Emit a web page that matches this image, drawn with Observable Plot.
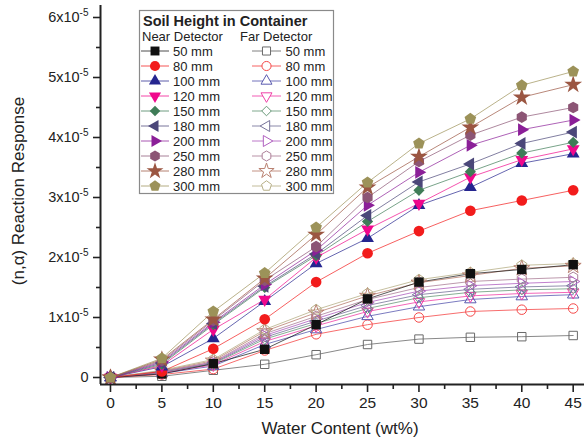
<!DOCTYPE html>
<html><head><meta charset="utf-8">
<script src="https://cdn.jsdelivr.net/npm/d3@7"></script>
<script src="https://cdn.jsdelivr.net/npm/@observablehq/plot@0.6"></script>
<style>
body{margin:0;background:#fff;}
#wrap{position:relative;width:584px;height:443px;font-family:"Liberation Sans",Arial,sans-serif;color:#222;}
#wrap svg{display:block;}
#legend{position:absolute;left:0;top:0;pointer-events:none;}
</style></head><body><div id="wrap"></div>
<script>
// x values: water content (wt%)
const water = [0, 5, 10, 15, 20, 25, 30, 35, 40, 45];
const heights = ["50 mm","80 mm","100 mm","120 mm","150 mm","180 mm","200 mm","250 mm","280 mm","300 mm"];
// Near detector responses (units of 1e-5)
const near50  = [0, 0.06, 0.23, 0.47, 0.88, 1.31, 1.59, 1.73, 1.80, 1.88];
const near80  = [0, 0.10, 0.48, 0.97, 1.59, 2.07, 2.44, 2.78, 2.95, 3.12];
const near100 = [0, 0.18, 0.65, 1.27, 1.90, 2.32, 2.87, 3.17, 3.57, 3.73];
const near120 = [0, 0.20, 0.80, 1.30, 2.00, 2.47, 2.90, 3.34, 3.63, 3.81];
const near150 = [0, 0.22, 0.88, 1.50, 2.03, 2.60, 3.12, 3.43, 3.74, 3.92];
const near180 = [0, 0.24, 0.90, 1.52, 2.06, 2.70, 3.26, 3.56, 3.90, 4.09];
const near200 = [0, 0.26, 0.92, 1.55, 2.12, 2.87, 3.42, 3.87, 4.13, 4.29];
const near250 = [0, 0.28, 0.95, 1.62, 2.18, 3.00, 3.60, 4.04, 4.34, 4.50];
const near280 = [0, 0.30, 0.97, 1.65, 2.38, 3.17, 3.68, 4.17, 4.67, 4.88];
const near300 = [0, 0.32, 1.10, 1.74, 2.50, 3.25, 3.90, 4.31, 4.87, 5.10];
// Far detector responses (units of 1e-5)
const far50  = [0, 0.02, 0.12, 0.22, 0.38, 0.55, 0.64, 0.67, 0.68, 0.70];
const far80  = [0, 0.05, 0.14, 0.45, 0.72, 0.88, 1.00, 1.10, 1.13, 1.15];
const far100 = [0, 0.07, 0.19, 0.55, 0.80, 1.02, 1.18, 1.30, 1.35, 1.38];
const far120 = [0, 0.08, 0.21, 0.60, 0.86, 1.10, 1.26, 1.36, 1.40, 1.42];
const far150 = [0, 0.09, 0.23, 0.64, 0.90, 1.15, 1.33, 1.42, 1.46, 1.48];
const far180 = [0, 0.09, 0.24, 0.67, 0.94, 1.20, 1.38, 1.47, 1.51, 1.53];
const far200 = [0, 0.10, 0.25, 0.70, 0.98, 1.25, 1.44, 1.53, 1.57, 1.60];
const far250 = [0, 0.10, 0.26, 0.73, 1.02, 1.30, 1.50, 1.60, 1.64, 1.67];
const far280 = [0, 0.11, 0.28, 0.77, 1.08, 1.36, 1.58, 1.70, 1.82, 1.86];
const far300 = [0, 0.12, 0.30, 0.80, 1.13, 1.40, 1.63, 1.75, 1.87, 1.90];
// tick values
const xTicks = [0, 5, 10, 15, 20, 25, 30, 35, 40, 45];
const xMinor = [2.5, 7.5, 12.5, 17.5, 22.5, 27.5, 32.5, 37.5, 42.5];
const yTicks = [0, 1, 2, 3, 4, 5, 6];
const yMinor = [0.5, 1.5, 2.5, 3.5, 4.5, 5.5];
const yTickLabels = ["0", "1x10^-5", "2x10^-5", "3x10^-5", "4x10^-5", "5x10^-5", "6x10^-5"];

const nearSeries = [near50, near80, near100, near120, near150, near180, near200, near250, near280, near300];
const farSeries = [far50, far80, far100, far120, far150, far180, far200, far250, far280, far300];
const nearColors = ["#111111","#f21c1c","#25258f","#f0088c","#3f7c57","#4b4779","#8b1f98","#8c5575","#9b5642","#9c9259"];
const farColors  = ["#6a6a6a","#f54848","#5a5ab0","#f040a8","#6a9a7a","#77739a","#b060c0","#ad8098","#b98070","#b8b088"];

// custom symbols
const sqrt3 = Math.sqrt(3);
function tri(dir) {
  return {draw(ctx, size) {
    const y = -Math.sqrt(size / (sqrt3 * 3));
    const pts = {
      up: [[0, 2*y], [-sqrt3*y, -y], [sqrt3*y, -y]],
      down: [[0, -2*y], [-sqrt3*y, y], [sqrt3*y, y]],
      left: [[2*y, 0], [-y, -sqrt3*y], [-y, sqrt3*y]],
      right: [[-2*y, 0], [y, -sqrt3*y], [y, sqrt3*y]]
    }[dir];
    ctx.moveTo(pts[0][0], pts[0][1]); ctx.lineTo(pts[1][0], pts[1][1]); ctx.lineTo(pts[2][0], pts[2][1]); ctx.closePath();
  }};
}
function poly(n) {
  return {draw(ctx, size) {
    const r = Math.sqrt(size / (n / 2 * Math.sin(2 * Math.PI / n)));
    for (let i = 0; i < n; i++) {
      const a = -Math.PI / 2 + i * 2 * Math.PI / n;
      const px = r * Math.cos(a), py = r * Math.sin(a);
      i ? ctx.lineTo(px, py) : ctx.moveTo(px, py);
    }
    ctx.closePath();
  }};
}
const symbols = [d3.symbolSquare, d3.symbolCircle, tri("up"), tri("down"), d3.symbolDiamond2, tri("left"), tri("right"), poly(6), d3.symbolStar, poly(5)];
const symScale = [0.95, 0.95, 0.85, 0.85, 0.9, 0.85, 0.85, 0.95, 1.0, 0.95];

const xDomain = [-0.97, 46.1];
const yDomain = [-0.1167, 6.2];
const rows = vals => water.map((w, j) => ({w, v: vals[j]}));

const marks = [];
farSeries.forEach((vals, i) => marks.push(Plot.line(rows(vals), {x: "w", y: "v", stroke: farColors[i], strokeWidth: 1, strokeOpacity: 0.8})));
nearSeries.forEach((vals, i) => marks.push(Plot.line(rows(vals), {x: "w", y: "v", stroke: nearColors[i], strokeWidth: 1, strokeOpacity: 0.7})));
farSeries.forEach((vals, i) => marks.push(Plot.dot(rows(vals), {x: "w", y: "v", r: 5 * symScale[i], symbol: symbols[i], stroke: farColors[i], fill: "none", strokeWidth: 1})));
nearSeries.forEach((vals, i) => marks.push(Plot.dot(rows(vals), {x: "w", y: "v", r: 5.6 * symScale[i], symbol: symbols[i], fill: nearColors[i]})));

marks.push(
  Plot.ruleX([xDomain[0]], {stroke: "#222", strokeWidth: 2}),
  Plot.ruleY([yDomain[0]], {stroke: "#222", strokeWidth: 2}),
  Plot.axisY({ticks: yTicks, tickSize: 7, tickPadding: 5, fontSize: 14.5, strokeWidth: 1.6, label: null, tickFormat: d => yTickLabels[yTicks.indexOf(d)]}),
  Plot.axisY({ticks: yMinor, tickSize: 4, strokeWidth: 1.6, label: null, tickFormat: () => ""}),
  Plot.axisX({ticks: xTicks, tickSize: 8, tickPadding: 4, fontSize: 15.5, strokeWidth: 1.6, label: null, tickFormat: d => String(d)}),
  Plot.axisX({ticks: xMinor, tickSize: 5, strokeWidth: 1.6, label: null, tickFormat: () => ""})
);

const chart = Plot.plot({
  width: 584, height: 443,
  marginLeft: 100, marginRight: 0, marginTop: 5, marginBottom: 59,
  x: {domain: xDomain},
  y: {domain: yDomain},
  style: {fontFamily: "'Liberation Sans', Arial, sans-serif", background: "white", color: "#222", overflow: "visible"},
  marks
});
document.getElementById("wrap").appendChild(chart);

// superscript exponents in y tick labels
chart.querySelectorAll('[aria-label="y-axis tick label"] text').forEach(t => {
  const s = t.textContent;
  if (s.includes("^")) {
    const [base, exp] = s.split("^");
    t.textContent = base;
    const ts = document.createElementNS("http://www.w3.org/2000/svg", "tspan");
    ts.setAttribute("dy", "-6");
    ts.setAttribute("font-size", "10");
    ts.textContent = exp;
    t.appendChild(ts);
  }
});

// axis titles
const svg = d3.select(chart);
svg.append("text").attr("transform", "translate(24,191) rotate(-90)").attr("text-anchor", "middle")
  .attr("font-size", 17).attr("fill", "#222").text("(n,α) Reaction Response");
svg.append("text").attr("x", 340).attr("y", 434).attr("text-anchor", "middle")
  .attr("font-size", 17).attr("fill", "#222").text("Water Content (wt%)");

// legend
const lg = d3.select("#wrap").append("svg").attr("id", "legend").attr("width", 584).attr("height", 443)
  .style("font-family", "'Liberation Sans', Arial, sans-serif");
lg.append("rect").attr("x", 139.5).attr("y", 10.5).attr("width", 194).attr("height", 183)
  .attr("fill", "white").attr("stroke", "#8a8a8a").attr("stroke-width", 1.2);
lg.append("text").attr("x", 143).attr("y", 25.5).attr("font-size", 14.5).attr("font-weight", "bold").attr("fill", "#222").text("Soil Height in Container");
lg.append("text").attr("x", 142).attr("y", 41).attr("font-size", 13).attr("fill", "#222").text("Near Detector");
lg.append("text").attr("x", 240).attr("y", 41).attr("font-size", 13).attr("fill", "#222").text("Far Detector");
heights.forEach((h, i) => {
  const cy = 51 + 15 * i;
  // near
  lg.append("line").attr("x1", 141).attr("x2", 169).attr("y1", cy).attr("y2", cy).attr("stroke", nearColors[i]).attr("stroke-opacity", 0.75);
  lg.append("path").attr("transform", `translate(155,${cy})`)
    .attr("d", d3.symbol().type(symbols[i]).size(Math.PI * Math.pow(5.3 * symScale[i], 2))()).attr("fill", nearColors[i]);
  lg.append("text").attr("x", 173).attr("y", cy + 4.7).attr("font-size", 13).attr("fill", "#222").text(h);
  // far
  lg.append("line").attr("x1", 252).attr("x2", 281).attr("y1", cy).attr("y2", cy).attr("stroke", farColors[i]).attr("stroke-opacity", 0.85);
  lg.append("path").attr("transform", `translate(266.5,${cy})`)
    .attr("d", d3.symbol().type(symbols[i]).size(Math.PI * Math.pow(4.8 * symScale[i], 2))())
    .attr("fill", "white").attr("stroke", farColors[i]).attr("stroke-width", 1);
  lg.append("text").attr("x", 285.5).attr("y", cy + 4.7).attr("font-size", 13).attr("fill", "#222").text(h);
});
</script></body></html>
